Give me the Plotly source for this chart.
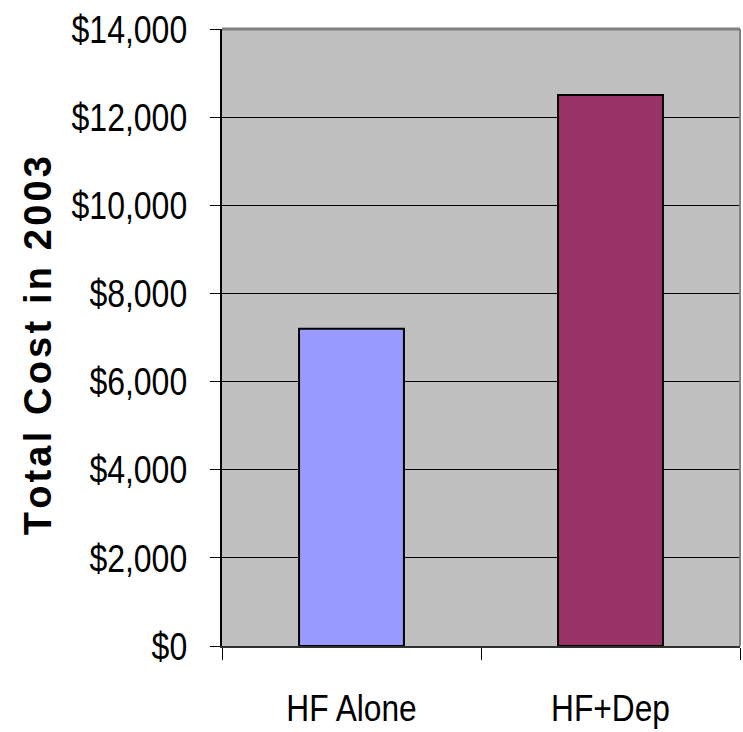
import plotly.graph_objects as go

# Cost comparison data
groups = ["HF Alone", "HF+Dep"]
total_cost = [7200, 12500]
bar_colors = ["#9999FF", "#993366"]

y_ticks = list(range(0, 14001, 2000))
y_tick_text = ["${:,}".format(v) for v in y_ticks]

base_font = "Liberation Sans, Arial, sans-serif"

fig = go.Figure(
    go.Bar(
        x=groups,
        y=total_cost,
        marker=dict(color=bar_colors, line=dict(color="black", width=2)),
        width=0.405,
        hoverinfo="x+y",
    )
)

# Letter-spaced vertical axis title
title_text = "\u200a".join("Total Cost in 2003")

fig.update_layout(
    width=743,
    height=732,
    margin=dict(l=222, r=3, t=29, b=82),
    paper_bgcolor="white",
    plot_bgcolor="#C0C0C0",
    showlegend=False,
    xaxis=dict(
        showgrid=False,
        showline=True,
        linecolor="#303030",
        linewidth=2,
        ticks="outside",
        tickson="boundaries",
        ticklen=12,
        tickcolor="black",
        tickwidth=1,
        tickfont=dict(family=base_font, size=36, color="black"),
        ticklabelstandoff=30,
    ),
    yaxis=dict(
        range=[0, 14000],
        tickmode="array",
        tickvals=y_ticks,
        ticktext=y_tick_text,
        showgrid=True,
        gridcolor="black",
        gridwidth=1,
        zeroline=False,
        showline=True,
        linecolor="black",
        linewidth=2,
        ticks="outside",
        ticklen=10,
        tickcolor="black",
        tickwidth=1,
        tickfont=dict(family=base_font, size=39, color="black"),
        ticklabelstandoff=15,
    ),
    annotations=[
        dict(
            text=title_text,
            xref="paper", yref="paper",
            x=-0.355, y=0.486,
            xanchor="center", yanchor="middle",
            textangle=-90,
            showarrow=False,
            font=dict(family=base_font, size=38, color="black", weight="bold"),
        )
    ],
    shapes=[
        dict(type="line", xref="paper", yref="paper", x0=0, x1=1, y0=1, y1=1,
             line=dict(color="#808080", width=3), layer="above"),
        dict(type="line", xref="paper", yref="paper", x0=1, x1=1, y0=0, y1=1,
             line=dict(color="#808080", width=2), layer="above"),
    ],
)

# Condense tick labels horizontally (narrow typeface look)
condense_js = """
var gd = document.getElementById('{plot_id}');
function squeeze(sel, k) {
    gd.querySelectorAll(sel).forEach(function(t){
        var w = t.getComputedTextLength();
        t.setAttribute('lengthAdjust', 'spacingAndGlyphs');
        t.setAttribute('textLength', (w * k).toFixed(2));
    });
}
squeeze('.xtick text', 0.88);
squeeze('.ytick text', 0.82);
"""

fig.write_html("out.html", post_script=condense_js)
